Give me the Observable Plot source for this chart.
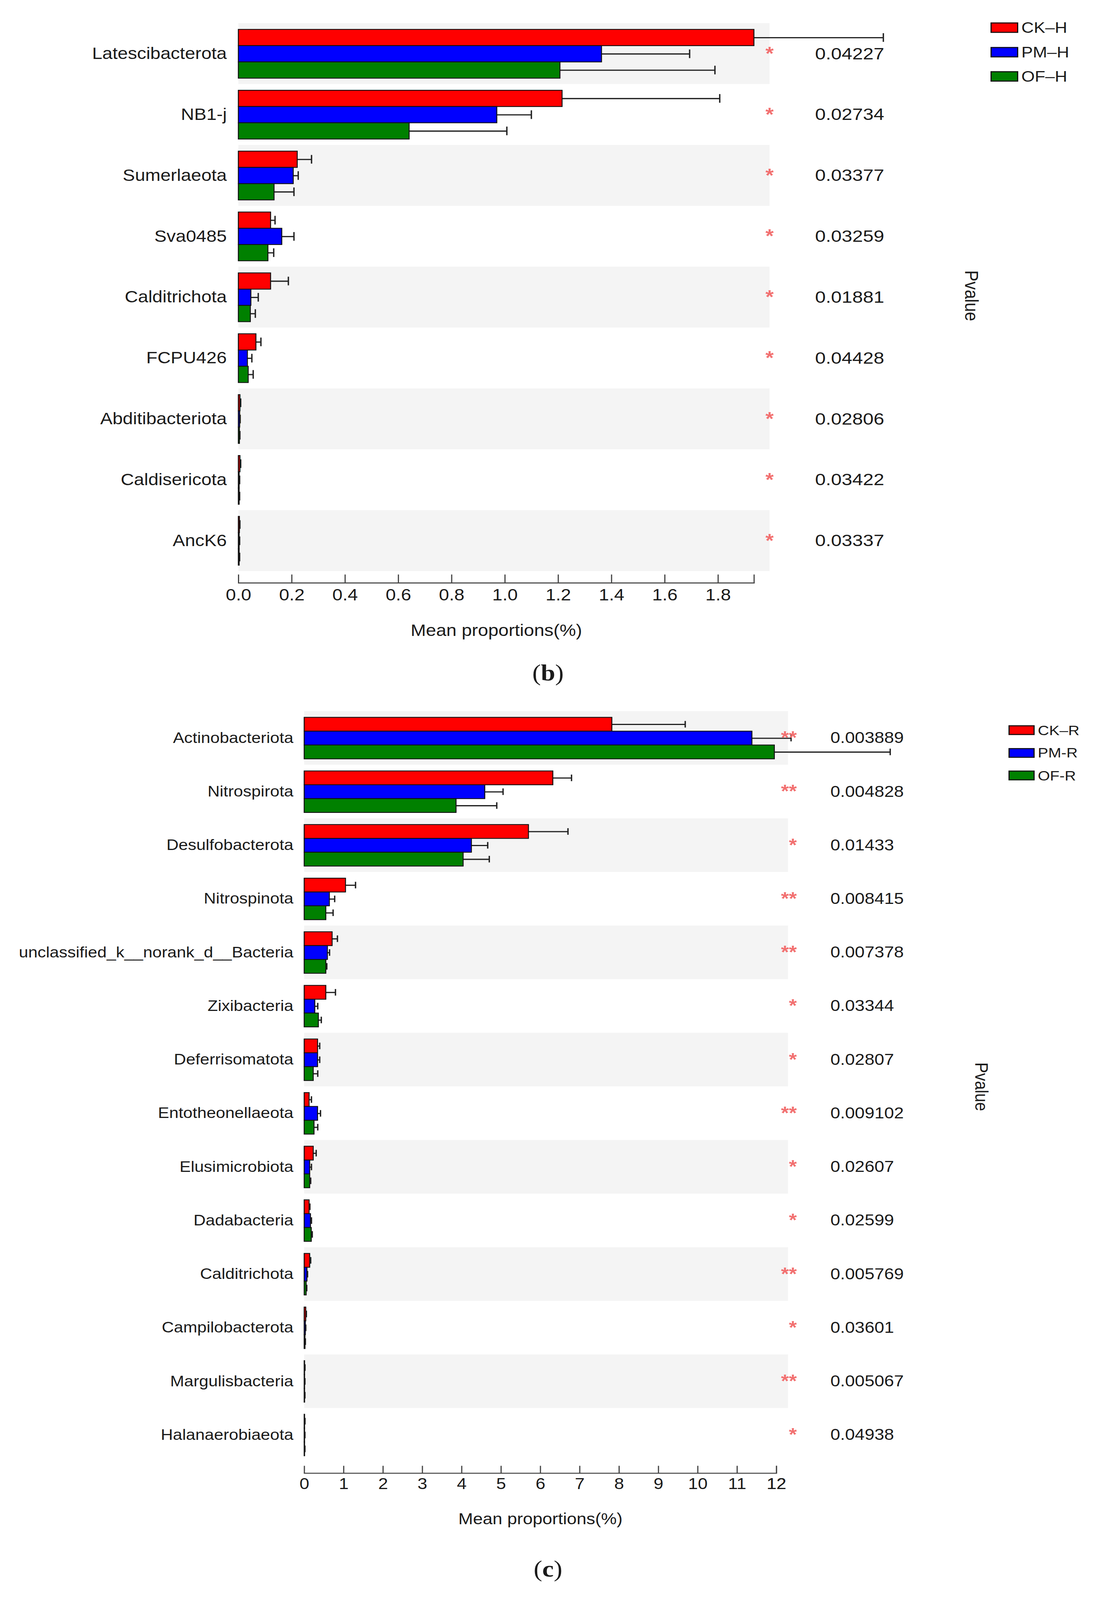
<!DOCTYPE html>
<html><head><meta charset="utf-8">
<script src="https://cdn.jsdelivr.net/npm/d3@7"></script>
<script src="https://cdn.jsdelivr.net/npm/@observablehq/plot@0.6"></script>
<style>
html,body{margin:0;padding:0;background:#fff;overflow:hidden;}
#page{position:relative;width:2805px;height:4626px;font-family:"Liberation Sans",Arial,sans-serif;color:#1a1a1a;overflow:hidden;transform-origin:0 0;}
.plotwrap{position:absolute;left:0;}
.plotwrap svg{overflow:visible;}
.lg{position:absolute;display:flex;align-items:center;white-space:nowrap;}
.sw{border:3px solid #111;box-sizing:border-box;}
.pv{position:absolute;transform:translate(-50%,-50%) rotate(90deg);white-space:nowrap;}
.cap{position:absolute;left:0;width:2805px;text-align:center;font-family:"Liberation Serif","DejaVu Serif",serif;line-height:1;}
</style></head><body><div id="page"></div>
<script>
// ---------- Panel (b) data ----------
const catsB = ["Latescibacterota","NB1-j","Sumerlaeota","Sva0485","Calditrichota","FCPU426","Abditibacteriota","Caldisericota","AncK6"];
const groupsB = ["CK–H","PM–H","OF–H"];
const ckB    = [1.935, 1.215, 0.221, 0.121, 0.121, 0.066, 0.006, 0.006, 0.004];
const ckBerr = [0.485, 0.591, 0.053, 0.016, 0.066, 0.018, 0.002, 0.002, 0.001];
const pmB    = [1.363, 0.970, 0.206, 0.163, 0.047, 0.034, 0.005, 0.003, 0.003];
const pmBerr = [0.330, 0.129, 0.018, 0.045, 0.027, 0.016, 0.001, 0.001, 0.001];
const ofB    = [1.207, 0.641, 0.134, 0.111, 0.045, 0.037, 0.004, 0.003, 0.003];
const ofBerr = [0.581, 0.366, 0.074, 0.021, 0.018, 0.018, 0.001, 0.001, 0.001];
const pB     = ["0.04227","0.02734","0.03377","0.03259","0.01881","0.04428","0.02806","0.03422","0.03337"];
const starB  = ["*","*","*","*","*","*","*","*","*"];
const ticksB = [0, 0.2, 0.4, 0.6, 0.8, 1.0, 1.2, 1.4, 1.6, 1.8];

// ---------- Panel (c) data ----------
const catsC = ["Actinobacteriota","Nitrospirota","Desulfobacterota","Nitrospinota","unclassified_k__norank_d__Bacteria","Zixibacteria","Deferrisomatota","Entotheonellaeota","Elusimicrobiota","Dadabacteria","Calditrichota","Campilobacterota","Margulisbacteria","Halanaerobiaeota"];
const groupsC = ["CK–R","PM-R","OF-R"];
const ckC    = [7.82, 6.32, 5.70, 1.05, 0.71, 0.55, 0.34, 0.125, 0.23, 0.125, 0.14, 0.04, 0.01, 0.01];
const ckCerr = [1.86, 0.47, 1.00, 0.25, 0.13, 0.24, 0.05, 0.055, 0.07, 0.015, 0.02, 0.01, 0.005, 0.005];
const pmC    = [11.38, 4.59, 4.25, 0.64, 0.59, 0.27, 0.34, 0.34, 0.14, 0.16, 0.07, 0.03, 0.01, 0.01];
const pmCerr = [0.99, 0.46, 0.41, 0.13, 0.05, 0.07, 0.05, 0.07, 0.04, 0.02, 0.01, 0.005, 0.003, 0.003];
const ofC    = [11.95, 3.86, 4.04, 0.55, 0.55, 0.36, 0.23, 0.25, 0.14, 0.18, 0.05, 0.02, 0.01, 0.01];
const ofCerr = [2.94, 1.03, 0.66, 0.18, 0.02, 0.07, 0.11, 0.09, 0.02, 0.02, 0.01, 0.005, 0.003, 0.003];
const pC     = ["0.003889","0.004828","0.01433","0.008415","0.007378","0.03344","0.02807","0.009102","0.02607","0.02599","0.005769","0.03601","0.005067","0.04938"];
const starC  = ["**","**","*","**","**","*","*","**","*","*","**","*","**","*"];
const ticksC = [0,1,2,3,4,5,6,7,8,9,10,11,12];

const barColors = ["#ff0000","#0000ff","#008000"];
const starColor = "#f27070";
const bandColor = "#f4f4f4";
const inkColor = "#1a1a1a";

const page = document.getElementById("page");
// the figure is laid out at 2805×4626; fit it into the visible window height
const fit = Math.min(1, window.innerHeight / 4626);
if (fit < 1) page.style.transform = `scale(1, ${fit})`;

function panel(o) {
  const rows = [];
  o.cats.forEach((c, i) => o.groups.forEach((g, s) => {
    rows.push({cat: c, group: g, mean: o.means[s][i], hi: o.means[s][i] + o.errs[s][i]});
  }));
  const pRows = o.cats.map((c, i) => ({cat: c, p: o.pvals[i], star: o.stars[i]}));
  const bg = o.cats.filter((c, i) => i % 2 === 0);
  const xEnd = Math.max(d3.max(rows, d => d.mean), d3.max(o.ticks));
  const chart = Plot.plot({
    width: 2805,
    height: o.height,
    marginTop: o.marginTop,
    marginBottom: o.marginBottom,
    marginLeft: o.marginLeft,
    marginRight: o.marginRight,
    style: {fontFamily: '"Liberation Sans", Arial, sans-serif', fontSize: o.tickSize + "px", color: inkColor, background: "transparent", overflow: "visible"},
    x: {domain: [0, xEnd]},
    fy: {domain: o.cats, padding: 0},
    y: {domain: o.groups, paddingInner: 0, paddingOuter: o.pad, axis: null},
    color: {domain: o.groups, range: barColors},
    marks: [
      Plot.barX(bg, {fy: d => d, x1: 0, x2: xEnd, insetRight: -o.bandExtra, fill: bandColor}),
      Plot.ruleY(rows, {fy: "cat", y: "group", x1: "mean", x2: "hi", stroke: "#222", strokeWidth: 3.5}),
      Plot.tickX(rows, {fy: "cat", y: "group", x: "hi", stroke: "#222", strokeWidth: 3.5, insetTop: o.capInset, insetBottom: o.capInset}),
      Plot.barX(rows, {fy: "cat", y: "group", x: "mean", fill: "group", stroke: "#111", strokeWidth: 2.5}),
      Plot.text(pRows, {fy: "cat", text: "star", frameAnchor: "right", dx: o.starDx, fill: starColor, fontSize: o.starSize, fontWeight: "bold"}),
      Plot.text(pRows, {fy: "cat", text: "p", frameAnchor: "right", textAnchor: "start", dx: o.pDx, fontSize: o.pSize, fill: inkColor}),
      Plot.axisFy({anchor: "left", tickSize: 0, tickPadding: o.labPad, fontSize: o.labSize, label: null, fill: inkColor}),
      Plot.frame({anchor: "bottom", facetAnchor: "bottom", dy: o.axisDy, stroke: "#444", strokeWidth: 3}),
      Plot.axisX({
        ticks: [...o.ticks, xEnd],
        tickFormat: d => o.ticks.includes(d) ? o.fmt(d) : "",
        tickSize: -o.tickLen, tickPadding: o.tickPad, dy: o.axisDy,
        stroke: "#444", strokeWidth: 3, fontSize: o.tickSize, fill: inkColor,
        label: "Mean proportions(%)", labelAnchor: "center", labelArrow: "none",
        labelOffset: o.labelOffset
      })
    ]
  });
  const wrap = document.createElement("div");
  wrap.className = "plotwrap";
  wrap.style.top = o.top + "px";
  wrap.appendChild(chart);
  page.appendChild(wrap);

  // legend
  o.groups.forEach((g, s) => {
    const row = document.createElement("div");
    row.className = "lg";
    row.style.left = o.legend.left + "px";
    row.style.top = (o.legend.top + s * o.legend.step) + "px";
    row.style.height = o.legend.h + "px";
    row.style.fontSize = o.legend.font + "px";
    const sw = document.createElement("div");
    sw.className = "sw";
    sw.style.width = o.legend.w + "px";
    sw.style.height = o.legend.h + "px";
    sw.style.background = barColors[s];
    sw.style.marginRight = o.legend.gap + "px";
    const t = document.createElement("span");
    t.textContent = g;
    row.appendChild(sw); row.appendChild(t);
    page.appendChild(row);
  });
  // Pvalue side title
  const pv = document.createElement("div");
  pv.className = "pv";
  pv.textContent = "Pvalue";
  pv.style.left = o.pvPos[0] + "px";
  pv.style.top = o.pvPos[1] + "px";
  pv.style.fontSize = o.pvSize + "px";
  page.appendChild(pv);
  // caption
  const cap = document.createElement("div");
  cap.className = "cap";
  cap.innerHTML = "(<b>" + o.caption + "</b>)";
  cap.style.top = o.capTop + "px";
  cap.style.fontSize = o.capSize + "px";
  page.appendChild(cap);
}

panel({
  cats: catsB, groups: groupsB, means: [ckB, pmB, ofB], errs: [ckBerr, pmBerr, ofBerr],
  pvals: pB, stars: starB, ticks: ticksB, fmt: d3.format(".1f"),
  top: 0, height: 1890, marginTop: 67, marginBottom: 239, marginLeft: 610, marginRight: 875.5,
  pad: 0.37, capInset: 11, bandExtra: 40,
  starDx: 50, starSize: 54, pDx: 156, pSize: 49,
  labPad: 30, labSize: 47,
  axisDy: 34, tickLen: 24, tickPad: 41, tickSize: 47, labelOffset: 187,
  legend: {left: 2535, top: 65, step: 70.5, w: 71, h: 30, gap: 8, font: 44},
  pvPos: [2486, 855], pvSize: 48,
  caption: "b", capTop: 1912, capSize: 66
});

panel({
  cats: catsC, groups: groupsC, means: [ckC, pmC, ofC], errs: [ckCerr, pmCerr, ofCerr],
  pvals: pC, stars: starC, ticks: ticksC, fmt: d3.format("d"),
  top: 1990, height: 2500, marginTop: 66, marginBottom: 264, marginLeft: 778.5, marginRight: 818.2,
  pad: 0.4, capInset: 10.5, bandExtra: 30,
  starDx: 52, starSize: 52, pDx: 138, pSize: 45,
  labPad: 28, labSize: 43,
  axisDy: 33, tickLen: 21, tickPad: 35, tickSize: 45, labelOffset: 180,
  legend: {left: 2581, top: 2097, step: 65.5, w: 67, h: 28, gap: 8, font: 40},
  pvPos: [2512, 3142], pvSize: 46,
  caption: "c", capTop: 4503, capSize: 66
});
</script>
</body></html>
